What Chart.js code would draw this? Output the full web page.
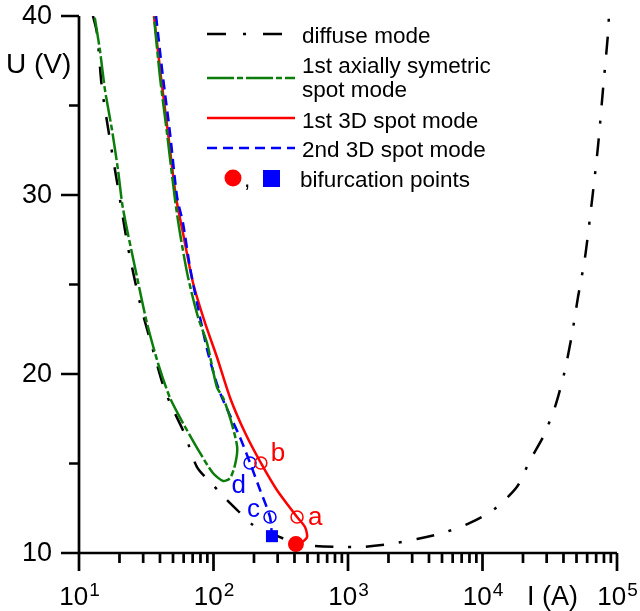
<!DOCTYPE html>
<html><head><meta charset="utf-8">
<script src="https://cdn.jsdelivr.net/npm/chart.js@4/dist/chart.umd.min.js"></script>
<style>html,body{margin:0;padding:0;background:#fff}#wrap{width:640px;height:611px;position:relative}</style>
</head><body><div id="wrap"><canvas id="c" width="640" height="611"></canvas></div>
<script>
// ---- data ----
const diffuseI = [12.7,13.6,14.8,17.0,20.2,23.1,28.4,36.7,42.1,47.5,61.4,75.4,99,126,150,197,263,352,462,828,1270,2050,3260,5080,8070,12000,18000,22600,28200,34600,40400,46200,51300,57800,65200,72200,78700,85800,87100];
const diffuseU = [40.0,39.05,36.0,33.07,29.72,27.1,23.97,20.95,19.39,18.38,16.6,14.8,13.8,12.96,12.4,11.56,11.12,10.73,10.45,10.34,10.34,10.5,10.78,11.12,11.68,12.4,13.69,15.2,16.48,18.16,20.0,22.18,24.3,26.5,29.7,32.7,35.9,39.05,40];
const axialI = [13.1,14.3,15.6,17.6,19.5,21.2,27.0,32.0,38.7,47.5,59.3,79.4,99,118,133,145,150,133,118,106,89.5,76.7,64.6,56.3,51.8,45.1,40.0,36.1];
const axialU = [39.9,38.1,35.87,33.63,31.4,29.27,25.42,22.85,20.6,18.66,17.26,15.59,14.47,14.02,14.19,14.97,15.92,17.54,18.66,19.27,21.73,23.18,25.42,27.88,29.72,33.46,36.59,39.94];
const spot3d1I = [36.1,40.7,45.9,52.6,59.3,70.5,86.5,106,133,172,225,296,418,479,496,455,410];
const spot3d1U = [40,36.59,33.46,29.89,27.88,25.08,22.85,20.95,18.66,16.7,15.03,13.52,12.01,11.45,10.89,10.61,10.5];
const spot3d2I = [37.4,42.1,47.5,53.6,59.3,66.8,75.4,91,112,157,187,222,263,272];
const spot3d2U = [40,36.59,33.46,29.89,28.44,25.98,23.97,21.17,18.94,16.48,15.03,13.52,12.01,10.94];
const redMarkI = [418,225];  const redMarkU = [12.01,15.03];  const redMarkLabels = ['a','b'];
const blueMarkI = [263,187]; const blueMarkU = [12.01,15.03]; const blueMarkLabels = ['c','d'];
const bifRedI = [410];  const bifRedU = [10.5];
const bifBlueI = [272]; const bifBlueU = [10.94];
const xMajorTicks = [10,100,1000,10000,100000];
const xTickExponents = ['1','2','3','4','5'];
const yMajorTicks = [10,20,30,40];
const yMinorTicks = [15,25,35];
const legendLabels = ['diffuse mode','1st axially symetric','spot mode','1st 3D spot mode','2nd 3D spot mode','bifurcation points'];

const pts = (xs,ys)=>xs.map((x,i)=>({x:x,y:ys[i]}));
const FONT = '"Liberation Sans", Arial, sans-serif';
const BLACK='#000', GREEN='#0a7d0a', RED='#ff0000', BLUE='#0000ff';
const DASH_BLACK=[18,15,3,15], DASH_GREEN=[27,3,6,3], DASH_BLUE=[10,6];

const lineDs = (data,color,dash,order)=>({type:'scatter',data:data,showLine:true,borderColor:color,backgroundColor:color,borderWidth:2.5,borderDash:dash,pointRadius:0,tension:0.25,order:order});

const axesPlugin = {
  id:'axesPlugin',
  afterDraw(chart){
    const ctx=chart.ctx, xs=chart.scales.x, ys=chart.scales.y;
    const x0=xs.getPixelForValue(10), x1=xs.getPixelForValue(100000);
    const y0=ys.getPixelForValue(10), y1=ys.getPixelForValue(40);
    ctx.save();
    ctx.strokeStyle='#000'; ctx.lineWidth=2.7; ctx.setLineDash([]);
    ctx.beginPath(); ctx.moveTo(x0,y1); ctx.lineTo(x0,y0); ctx.lineTo(x1,y0); ctx.stroke();
    ctx.beginPath();
    yMajorTicks.forEach(v=>{const y=ys.getPixelForValue(v); ctx.moveTo(x0-18,y); ctx.lineTo(x0,y);});
    yMinorTicks.forEach(v=>{const y=ys.getPixelForValue(v); ctx.moveTo(x0-10,y); ctx.lineTo(x0,y);});
    xMajorTicks.forEach(v=>{const x=xs.getPixelForValue(v); ctx.moveTo(x,y0); ctx.lineTo(x,y0+18);});
    for(let d=10; d<100000; d*=10){ for(let k=2;k<=9;k++){const x=xs.getPixelForValue(d*k); ctx.moveTo(x,y0); ctx.lineTo(x,y0+10);} }
    ctx.stroke();
    // y tick labels
    ctx.fillStyle='#000'; ctx.font='27px '+FONT; ctx.textAlign='right'; ctx.textBaseline='middle';
    yMajorTicks.forEach(v=>{ctx.fillText(String(v), x0-27, ys.getPixelForValue(v)+1);});
    // x tick labels 10^n
    ctx.textBaseline='alphabetic'; ctx.textAlign='left';
    xMajorTicks.forEach((v,i)=>{
      ctx.font='26px '+FONT; const w1=ctx.measureText('10').width;
      ctx.font='19px '+FONT; const w2=ctx.measureText(xTickExponents[i]).width;
      const x=xs.getPixelForValue(v)-(w1+w2)/2;
      ctx.font='26px '+FONT; ctx.fillText('10',x,605);
      ctx.font='19px '+FONT; ctx.fillText(xTickExponents[i],x+w1+1,596);
    });
    // axis titles
    ctx.font='28px '+FONT; ctx.textAlign='left'; ctx.textBaseline='alphabetic';
    ctx.fillText('U (V)',6,73);
    ctx.font='27px '+FONT;
    ctx.fillText('I (A)',527,605);
    // point labels
    ctx.font='26px '+FONT;
    const lab=(I,U,t,col,dx,dy,al)=>{ctx.fillStyle=col; ctx.textAlign=al; ctx.fillText(t, xs.getPixelForValue(I)+dx, ys.getPixelForValue(U)+dy);};
    lab(redMarkI[0],redMarkU[0],redMarkLabels[0],RED,11,8,'left');
    lab(redMarkI[1],redMarkU[1],redMarkLabels[1],RED,10,-2,'left');
    lab(blueMarkI[0],blueMarkU[0],blueMarkLabels[0],BLUE,-10,0,'right');
    lab(blueMarkI[1],blueMarkU[1],blueMarkLabels[1],BLUE,-4,30,'right');
    // legend
    ctx.textAlign='left'; ctx.font='22.5px '+FONT; ctx.fillStyle='#000';
    ctx.lineWidth=2.7; ctx.lineCap='butt';
    const sample=(y,col,dash)=>{ctx.strokeStyle=col; ctx.setLineDash(dash); ctx.beginPath(); ctx.moveTo(207,y); ctx.lineTo(295,y); ctx.stroke();};
    sample(34,BLACK,[19,17,3,17]);
    sample(78,GREEN,DASH_GREEN);
    sample(118,RED,[]);
    sample(148,BLUE,DASH_BLUE);
    ctx.setLineDash([]);
    ctx.fillStyle='#000';
    ctx.fillText(legendLabels[0],302,43);
    ctx.fillText(legendLabels[1],302,73);
    ctx.fillText(legendLabels[2],302,97);
    ctx.fillText(legendLabels[3],302,128);
    ctx.fillText(legendLabels[4],302,157);
    ctx.fillText(legendLabels[5],300,187);
    ctx.fillStyle=RED; ctx.beginPath(); ctx.arc(233,178,8.5,0,Math.PI*2); ctx.fill();
    ctx.fillStyle='#000'; ctx.fillText(',',244,187);
    ctx.fillStyle=BLUE; ctx.fillRect(263,170,17,17);
    ctx.restore();
  }
};

new Chart(document.getElementById('c'),{
  data:{datasets:[
    lineDs(pts(diffuseI,diffuseU),BLACK,DASH_BLACK,5),
    lineDs(pts(spot3d1I,spot3d1U),RED,[],4),
    lineDs(pts(spot3d2I,spot3d2U),BLUE,DASH_BLUE,3),
    lineDs(pts(axialI,axialU),GREEN,DASH_GREEN,2),
    {type:'scatter',data:pts(redMarkI,redMarkU),pointStyle:'circle',pointRadius:6,borderWidth:1.5,borderColor:RED,backgroundColor:'rgba(255,255,255,0)',order:1},
    {type:'scatter',data:pts(blueMarkI,blueMarkU),pointStyle:'circle',pointRadius:6,borderWidth:1.5,borderColor:BLUE,backgroundColor:'rgba(255,255,255,0)',order:1},
    {type:'scatter',data:pts(bifRedI,bifRedU),pointStyle:'circle',pointRadius:8,borderWidth:0,backgroundColor:RED,order:0},
    {type:'scatter',data:pts(bifBlueI,bifBlueU),pointStyle:'rect',pointRadius:8.5,borderWidth:0,backgroundColor:BLUE,order:0}
  ]},
  options:{
    responsive:false, animation:false, devicePixelRatio:1,
    layout:{padding:{left:79,right:23,top:16,bottom:58}},
    plugins:{legend:{display:false},tooltip:{enabled:false}},
    scales:{
      x:{type:'logarithmic',min:10,max:100000,display:false},
      y:{type:'linear',min:10,max:40,display:false}
    }
  },
  plugins:[axesPlugin]
});
</script>
</body></html>
